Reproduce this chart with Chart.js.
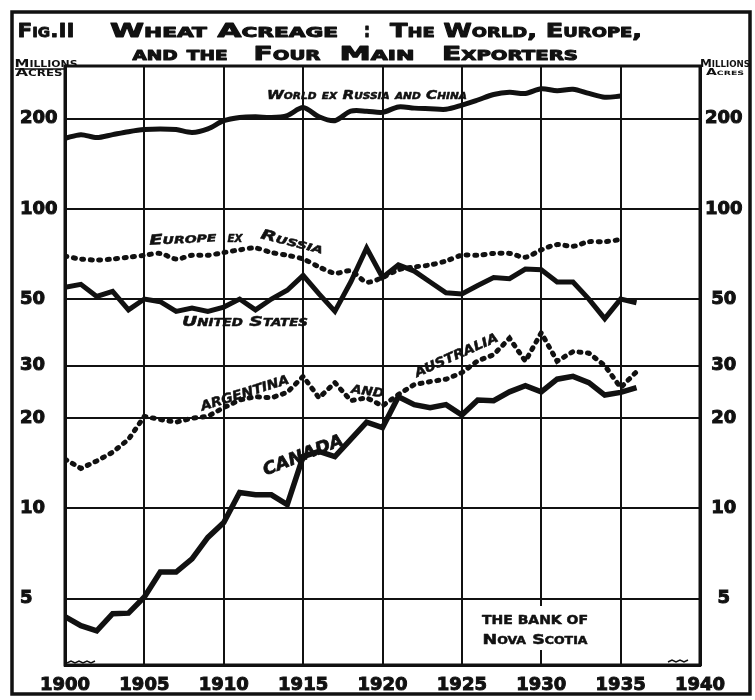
<!DOCTYPE html>
<html>
<head>
<meta charset="utf-8">
<title>Wheat Acreage</title>
<script src="https://cdn.jsdelivr.net/npm/chart.js@4/dist/chart.umd.min.js"></script>
<style>
  html, body { margin: 0; padding: 0; background: #fff; }
  #wrap { position: relative; width: 755px; height: 700px; }
</style>
</head>
<body>
<div id="wrap"><canvas id="wheatChart" width="755" height="700"></canvas></div>
<script>
// years on the x axis
const years = [1900, 1901, 1902, 1903, 1904, 1905, 1906, 1907, 1908, 1909,
               1910, 1911, 1912, 1913, 1914, 1915, 1916, 1917, 1918, 1919,
               1920, 1921, 1922, 1923, 1924, 1925, 1926, 1927, 1928, 1929,
               1930, 1931, 1932, 1933, 1934, 1935, 1936];

// millions of acres
const world = [172, 177, 173, 177, 181, 184, 185, 184, 180, 185,
               197, 202, 203, 202, 205, 218, 203, 197, 212, 212,
               210, 219, 217, 216, 215, 222, 231, 241, 245, 243,
               252, 248, 251, 243, 236, 238];
const europe = [69.5, 68, 67.5, 68, 69, 70, 71, 68, 70, 70,
                71.5, 73, 74, 71.5, 70, 68, 64, 61, 62, 57,
                59, 62.6, 64, 65, 67, 70, 70, 71, 71, 69,
                73, 76, 75, 77.7, 77.7, 79];
const unitedStates = [54.7, 56, 51, 53, 46, 50, 49, 45.5, 46.7, 45.5,
                      47, 50, 46, 50, 53.5, 60, 52, 45.5, 57, 74,
                      59, 65, 62, 57, 52.5, 52, 55.5, 59, 58.5, 63,
                      62.6, 57, 57, 50, 43, 50, 48.6];
const argentinaAustralia = [14.6, 13.6, 14.4, 15.4, 17, 20.3, 19.8, 19.4, 20, 20.3,
                            21.7, 23, 23.6, 23.4, 24.4, 27.6, 23.4, 26.3, 22.9, 23.4,
                            22, 24, 25.9, 26.5, 27, 28.4, 31.1, 32.6, 37, 31,
                            38.6, 31, 33.4, 33, 30, 25.3, 28.6];
const canada = [4.35, 4.06, 3.9, 4.45, 4.47, 5.06, 6.13, 6.13, 6.78, 8,
                8.97, 11.3, 11.1, 11.1, 10.3, 14.9, 15.5, 14.9, 17, 19.4,
                18.6, 23.6, 22.2, 21.7, 22.2, 20.5, 23, 22.9, 24.5, 25.7,
                24.5, 27, 27.6, 26.3, 23.9, 24.4, 25.3];

const xTicks = [1900, 1905, 1910, 1915, 1920, 1925, 1930, 1935, 1940];
const yTicks = [5, 10, 20, 30, 50, 100, 200];

const INK = '#111';
const FAMILY = "'DejaVu Sans', sans-serif";

function pts(values) {
  return values.map((v, i) => ({ x: years[i], y: v }));
}

// draw a text stretched/squeezed to a given width, centred on (cx, y)
function fitText(ctx, text, cx, y, w, font, angle, heavy) {
  ctx.save();
  ctx.font = font;
  if (font.indexOf('small-caps') >= 0 && 'fontVariantCaps' in ctx) ctx.fontVariantCaps = 'small-caps';
  const m = ctx.measureText(text).width;
  ctx.translate(cx, y);
  if (angle) ctx.rotate(angle * Math.PI / 180);
  ctx.scale(w / m, 1);
  ctx.textAlign = 'center';
  ctx.textBaseline = 'alphabetic';
  ctx.fillStyle = INK;
  if (heavy) {
    ctx.strokeStyle = INK;
    ctx.lineWidth = heavy;
    ctx.lineJoin = 'round';
    ctx.strokeText(text, 0, 0);
  }
  ctx.fillText(text, 0, 0);
  ctx.restore();
}

function wavy(ctx, x0, x1, y) {
  ctx.beginPath();
  ctx.moveTo(x0, y);
  let up = true;
  for (let x = x0 + 4; x <= x1; x += 4) {
    ctx.lineTo(x, up ? y - 2 : y);
    up = !up;
  }
  ctx.stroke();
}

const plate = {
  id: 'plate',
  beforeDraw(chart) {
    const ctx = chart.ctx;
    ctx.save();
    ctx.fillStyle = '#fff';
    ctx.fillRect(0, 0, chart.width, chart.height);
    ctx.restore();
  },
  afterDatasetsDraw(chart) {
    const ctx = chart.ctx;
    const a = chart.chartArea;
    const title = 'small-caps bold 20px ' + FAMILY;
    const lab = 'italic small-caps bold 13px ' + FAMILY;

    // heading
    fitText(ctx, 'Fig.II', 46, 37, 57, title, 0, 0.8);
    fitText(ctx, 'Wheat Acreage', 224, 37, 228, title, 0, 1);
    fitText(ctx, ':', 367, 37, 6, title, 0, 1);
    fitText(ctx, 'The World, Europe,', 516, 37, 252, title, 0, 1);
    fitText(ctx, 'and the', 180, 60, 95, title, 0, 1);
    fitText(ctx, 'Four', 287, 60, 67, title, 0, 1);
    fitText(ctx, 'Main', 377, 60, 75, title, 0, 1);
    fitText(ctx, 'Exporters', 510, 60, 136, title, 0, 1);

    // units
    const unit = 'small-caps bold 11px ' + FAMILY;
    fitText(ctx, 'Millions', 46, 67, 63, unit);
    fitText(ctx, 'Acres', 39, 76, 47, unit);
    fitText(ctx, 'Millions', 725, 67, 50, unit);
    fitText(ctx, 'Acres', 725, 75, 38, 'small-caps bold 9px ' + FAMILY);
    ctx.save();
    ctx.strokeStyle = INK;
    ctx.lineWidth = 1.5;
    ctx.beginPath();
    ctx.moveTo(15, 69);
    ctx.lineTo(a.left, 69);
    ctx.stroke();
    ctx.restore();

    // series names
    fitText(ctx, 'World ex Russia and China', 367, 99, 200, lab, 0, 0.5);
    fitText(ctx, 'Europe', 183, 243, 67, 'italic small-caps bold 14px ' + FAMILY, -3, 0.5);
    fitText(ctx, 'ex', 235, 242, 15, 'italic small-caps bold 15px ' + FAMILY, 0, 0.5);
    fitText(ctx, 'Russia', 291, 246, 64, 'italic small-caps bold 14px ' + FAMILY, 14, 0.5);
    fitText(ctx, 'United States', 245, 326, 126, 'italic small-caps bold 14px ' + FAMILY, 0, 0.5);
    fitText(ctx, 'ARGENTINA', 246, 397, 92, 'italic bold 13px ' + FAMILY, -17.5, 0.5);
    fitText(ctx, 'AND', 367, 395, 33, 'italic bold 12px ' + FAMILY, 8, 0.5);
    fitText(ctx, 'AUSTRALIA', 458, 359, 90, 'italic bold 13px ' + FAMILY, -24, 0.5);
    fitText(ctx, 'CANADA', 305, 460, 85, 'italic bold 17px ' + FAMILY, -21.5, 0.7);

    // imprint
    ctx.save();
    ctx.fillStyle = '#fff';
    ctx.fillRect(478, 606, 114, 44);
    ctx.restore();
    fitText(ctx, 'THE BANK OF', 535, 624, 106, 'bold 12px ' + FAMILY, 0, 0.5);
    fitText(ctx, 'Nova Scotia', 535, 644, 105, 'small-caps bold 14px ' + FAMILY, 0, 0.5);

    // plot frame, page frame, axis breaks
    ctx.save();
    ctx.strokeStyle = INK;
    ctx.lineWidth = 3;
    ctx.strokeRect(a.left, a.top, a.right - a.left, a.bottom - a.top);
    ctx.lineWidth = 3.5;
    ctx.strokeRect(12, 12, 738, 682);
    ctx.lineWidth = 1.5;
    wavy(ctx, a.left + 2, a.left + 30, a.bottom - 2);
    wavy(ctx, a.right - 32, a.right - 10, a.bottom - 3);
    ctx.restore();
  }
};

const tickFont = { family: FAMILY, size: 18, weight: 'bold' };

new Chart(document.getElementById('wheatChart'), {
  type: 'line',
  data: {
    datasets: [
      { label: 'World ex Russia and China', data: pts(world), borderColor: INK,
        borderWidth: 5, tension: 0.3, pointRadius: 0 },
      { label: 'Europe ex Russia', data: pts(europe), borderColor: INK,
        borderWidth: 5, borderDash: [2, 6.5], borderCapStyle: 'round', tension: 0.3, pointRadius: 0 },
      { label: 'United States', data: pts(unitedStates), borderColor: INK,
        borderWidth: 5, tension: 0, pointRadius: 0 },
      { label: 'Argentina and Australia', data: pts(argentinaAustralia), borderColor: INK,
        borderWidth: 5, borderDash: [2, 6.5], borderCapStyle: 'round', tension: 0, pointRadius: 0 },
      { label: 'Canada', data: pts(canada), borderColor: INK,
        borderWidth: 5.5, tension: 0, pointRadius: 0 }
    ]
  },
  options: {
    responsive: false,
    animation: false,
    layout: { padding: { left: 20, right: 0, top: 66, bottom: 5 } },
    plugins: { legend: { display: false }, tooltip: { enabled: false } },
    scales: {
      x: {
        type: 'linear', min: 1900, max: 1940,
        afterBuildTicks: s => { s.ticks = xTicks.map(v => ({ value: v })); },
        afterFit: s => { s.height = 30; },
        grid: { color: INK, lineWidth: 2, drawTicks: false },
        border: { color: INK, width: 3 },
        ticks: { color: INK, font: tickFont, padding: 10, maxRotation: 0, autoSkip: false,
                 textStrokeColor: INK, textStrokeWidth: 1,
                 callback: v => String(v) }
      },
      y: {
        type: 'logarithmic', position: 'left', min: 3, max: 300,
        afterBuildTicks: s => { s.ticks = yTicks.map(v => ({ value: v })); },
        afterFit: s => { s.width = 45; },
        grid: { color: INK, lineWidth: 2, drawTicks: false },
        border: { color: INK, width: 3 },
        ticks: { color: INK, font: tickFont, padding: 8, crossAlign: 'far', autoSkip: false,
                 textStrokeColor: INK, textStrokeWidth: 1,
                 callback: v => String(v) }
      },
      y2: {
        type: 'logarithmic', position: 'right', min: 3, max: 300,
        afterBuildTicks: s => { s.ticks = yTicks.map(v => ({ value: v })); },
        afterFit: s => { s.width = 55; },
        grid: { drawOnChartArea: false, drawTicks: false },
        border: { color: INK, width: 3 },
        ticks: { color: INK, font: tickFont, padding: 5, crossAlign: 'center', autoSkip: false,
                 textStrokeColor: INK, textStrokeWidth: 1,
                 callback: v => String(v) }
      }
    }
  },
  plugins: [plate]
});
</script>
</body>
</html>
